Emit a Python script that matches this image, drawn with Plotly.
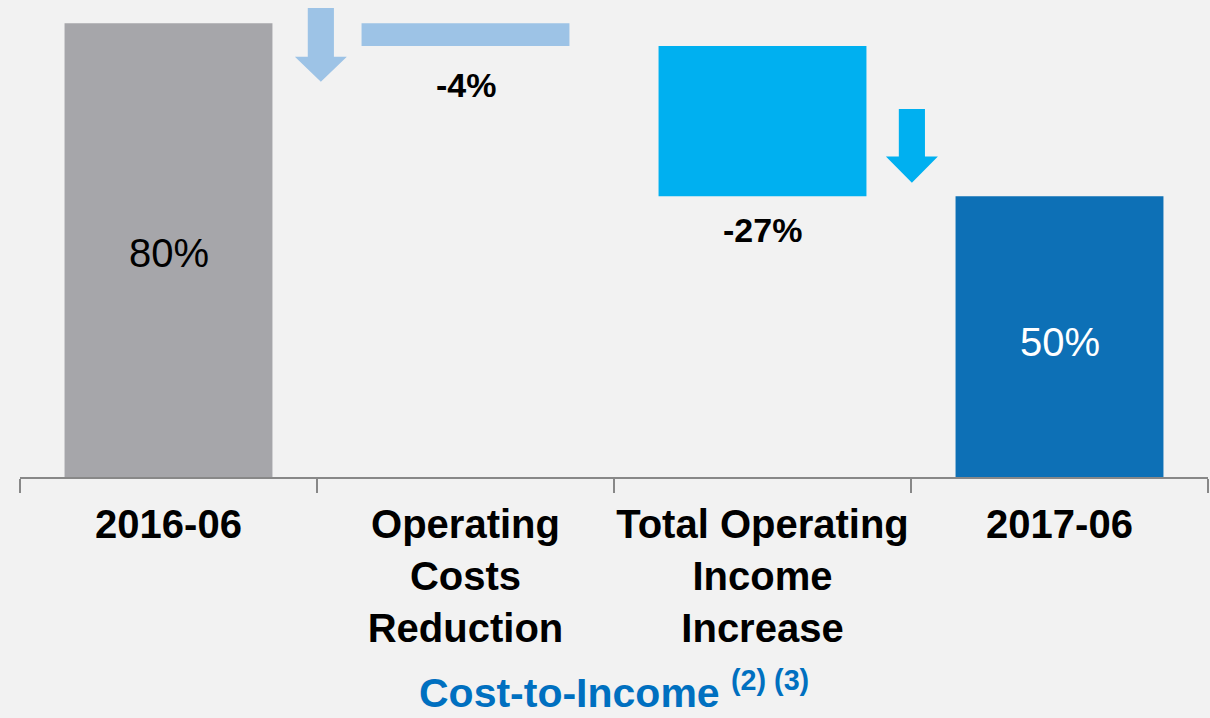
import plotly.graph_objects as go

# ---- data ----
categories = ["2016-06", "Operating Costs Reduction", "Total Operating Income Increase", "2017-06"]
tick_labels = ["2016-06", "Operating<br>Costs<br>Reduction", "Total Operating<br>Income<br>Increase", "2017-06"]
start_value = 80
changes = [-4, -26.5]
end_value = 49.5
value_labels = ["80%", "-4%", "-27%", "50%"]
title_text = "Cost-to-Income <sup>(2) (3)</sup>"

# ---- styles ----
bar_colors = ["#A6A6AA", "#9DC3E6", "#00B0F0", "#0D70B6"]
bg = "#F2F2F2"
font_family = "Liberation Sans, Arial, sans-serif"

# waterfall bases / heights
bases = [0]
heights = [start_value]
level = start_value
for c in changes:
    bases.append(level)
    heights.append(c)
    level += c
bases.append(0)
heights.append(end_value)

fig = go.Figure()
fig.add_trace(go.Bar(
    x=categories, y=heights, base=bases, width=0.7,
    marker=dict(color=bar_colors, line=dict(width=0)),
    hoverinfo="skip", showlegend=False,
))

# total labels inside the first and last bars
for idx, col, ys in [(0, "#000000", -3), (3, "#FFFFFF", -5)]:
    fig.add_annotation(
        x=categories[idx], y=bases[idx] + heights[idx] / 2, text=value_labels[idx],
        showarrow=False, yanchor="middle", yshift=ys,
        font=dict(family=font_family, size=40, color=col),
    )

# delta labels below the change bars
shifts = [-39, -34]
for i, c in enumerate(changes):
    idx = i + 1
    fig.add_annotation(
        x=categories[idx], y=bases[idx] + heights[idx], text="<b>%s</b>" % value_labels[idx],
        showarrow=False, yanchor="middle", yshift=shifts[i],
        font=dict(family=font_family, size=34, color="#000000"),
    )

# decorative arrows (x in category index units, y in data units)
def arrow_path(xc, ytop, yneck, ytip, shw=0.044, hhw=0.0875):
    return ("M {a},{t} L {b},{t} L {b},{n} L {c},{n} L {x},{p} L {d},{n} L {a2},{n} Z"
            .format(a=xc - shw, b=xc + shw, c=xc + hhw, d=xc - hhw, a2=xc - shw,
                    t=ytop, n=yneck, p=ytip, x=xc))

arrows = [(0.513, 82.7, 74.1, 69.7, bar_colors[1]), (2.503, 64.9, 56.5, 51.9, bar_colors[2])]
for xc, yt, yn, yp, col in arrows:
    fig.add_shape(type="path", path=arrow_path(xc, yt, yn, yp), xref="x", yref="y",
                  fillcolor=col, line=dict(width=0), layer="above")

fig.add_annotation(
    x=0.5, xref="paper", y=-0.446, yref="paper", yanchor="middle",
    text="<b>%s</b>" % title_text, showarrow=False,
    font=dict(family=font_family, size=41, color="#0070C0"),
)

fig.update_layout(
    width=1210, height=718,
    margin=dict(l=20, r=2, t=0, b=240.5, autoexpand=False),
    paper_bgcolor=bg, plot_bgcolor=bg,
    bargap=0.3,
    showlegend=False,
    xaxis=dict(
        type="category", tickvals=categories, ticktext=tick_labels,
        tickangle=0, automargin=False, ticklabelstandoff=11,
        tickson="boundaries", ticks="outside", ticklen=14, tickwidth=2, tickcolor="#888888",
        showline=True, linecolor="#888888", linewidth=2,
        showgrid=False, zeroline=False, range=[-0.5, 3.5],
        tickfont=dict(family=font_family, size=40, color="#000000", weight="bold"),
        fixedrange=True,
    ),
    yaxis=dict(visible=False, range=[0, 84.1], showgrid=False, zeroline=False, fixedrange=True,
               automargin=False),
)

fig.write_html("out.html")
